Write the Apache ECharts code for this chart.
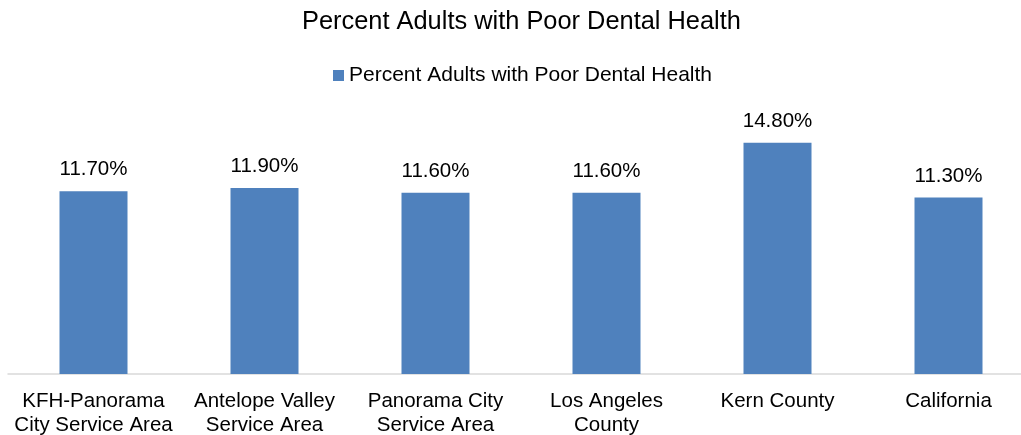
<!DOCTYPE html>
<html>
<head>
<meta charset="utf-8">
<script src="https://cdn.jsdelivr.net/npm/echarts@6/dist/echarts.min.js"></script>
<style>
  html, body { margin: 0; padding: 0; background: #fff; }
  #chart { width: 1021px; height: 435px; }
</style>
</head>
<body>
<div id="chart"></div>
<script>
// 数据
const categories = [
  'KFH-Panorama\nCity Service Area',
  'Antelope Valley\nService Area',
  'Panorama City\nService Area',
  'Los Angeles\nCounty',
  'Kern County',
  'California'
];
const poorDentalHealth = [11.7, 11.9, 11.6, 11.6, 14.8, 11.3];
const seriesName = 'Percent Adults with Poor Dental Health';

const chart = echarts.init(document.getElementById('chart'));
const font = '"Liberation Sans", Arial, sans-serif';

chart.setOption({
  animation: false,
  title: {
    text: seriesName,
    left: 302,
    top: 9,
    padding: 0,
    textStyle: { fontFamily: font, fontSize: 25.4, fontWeight: 'normal', color: '#000' }
  },
  legend: {
    data: [seriesName],
    top: 65,
    left: 333,
    padding: 0,
    itemWidth: 11,
    itemHeight: 11,
    itemGap: 4,
    icon: 'rect',
    textStyle: { fontFamily: font, fontSize: 21, color: '#000' }
  },
  grid: { left: 8, right: -13, top: 124, bottom: 61, outerBoundsMode: 'none' },
  xAxis: {
    type: 'category',
    data: categories,
    axisLine: { lineStyle: { color: '#d9d9d9', width: 1.5 } },
    axisTick: { show: false },
    axisLabel: {
      interval: 0,
      margin: 15,
      color: '#000',
      fontFamily: font,
      fontSize: 20.5,
      lineHeight: 24
    }
  },
  yAxis: {
    type: 'value',
    min: 0,
    max: 16,
    interval: 2,
    show: false
  },
  series: [{
    name: seriesName,
    type: 'bar',
    data: poorDentalHealth,
    barWidth: 68,
    itemStyle: { color: '#4f81bd' },
    label: {
      show: true,
      position: 'top',
      distance: 11,
      color: '#000',
      fontFamily: font,
      fontSize: 20.5,
      formatter: p => p.value.toFixed(2) + '%'
    }
  }]
});
</script>
</body>
</html>
